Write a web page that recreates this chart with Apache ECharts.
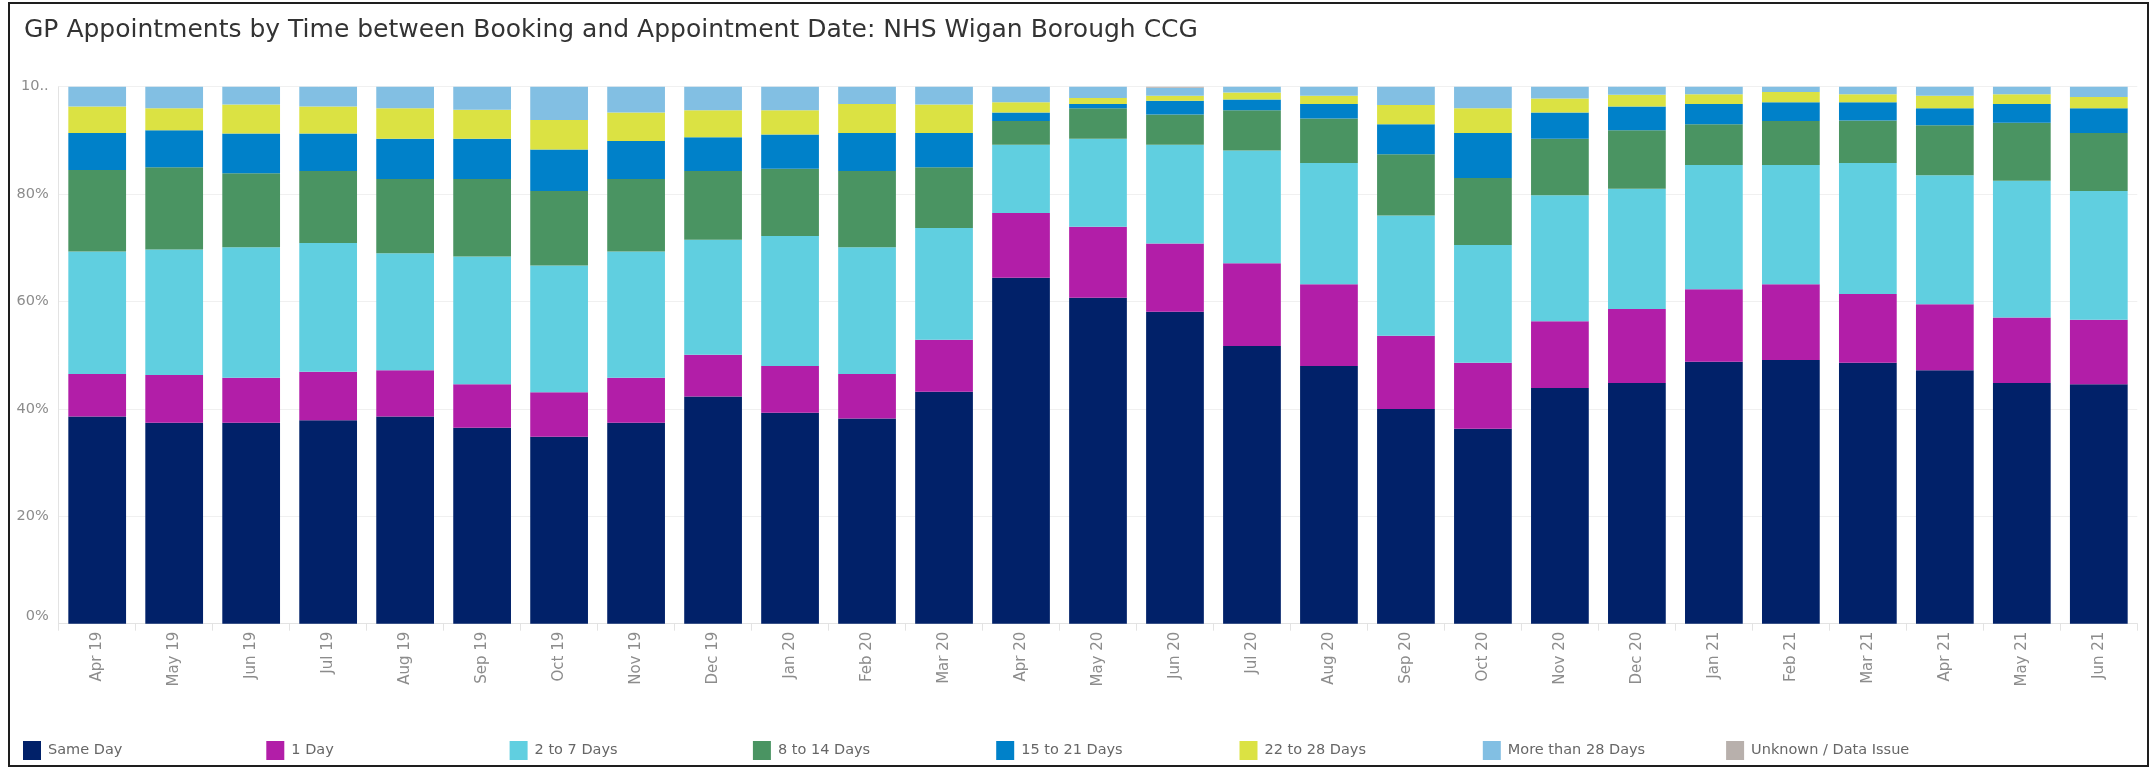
<!DOCTYPE html>
<html>
<head>
<meta charset="utf-8">
<title>GP Appointments by Time between Booking and Appointment Date</title>
<script src="https://cdn.jsdelivr.net/npm/echarts@6/dist/echarts.min.js"></script>
<style>
  html, body { margin: 0; padding: 0; background: #ffffff; }
  #chart { width: 2153px; height: 772px; }
</style>
</head>
<body>
<div id="chart"></div>
<script>
// Months on the category axis
const months = ['Apr 19', 'May 19', 'Jun 19', 'Jul 19', 'Aug 19', 'Sep 19', 'Oct 19', 'Nov 19', 'Dec 19',
  'Jan 20', 'Feb 20', 'Mar 20', 'Apr 20', 'May 20', 'Jun 20', 'Jul 20', 'Aug 20', 'Sep 20', 'Oct 20',
  'Nov 20', 'Dec 20', 'Jan 21', 'Feb 21', 'Mar 21', 'Apr 21', 'May 21', 'Jun 21'];

// Share of appointments (%) by time between booking and appointment
const sameDay      = [38.6, 37.4, 37.4, 37.9, 38.6, 36.5, 34.8, 37.4, 42.3, 39.3, 38.2, 43.2, 64.4, 60.7, 58.1, 51.7, 48.0, 40.0, 36.3, 43.9, 44.8, 48.8, 49.1, 48.6, 47.2, 44.8, 44.6];
const oneDay       = [7.9, 8.9, 8.4, 9.0, 8.6, 8.1, 8.3, 8.4, 7.8, 8.7, 8.3, 9.7, 12.1, 13.2, 12.7, 15.4, 15.2, 13.6, 12.3, 12.4, 13.8, 13.5, 14.1, 12.8, 12.3, 12.2, 12.0];
const twoToSeven   = [22.8, 23.4, 24.3, 24.0, 21.8, 23.8, 23.6, 23.5, 21.4, 24.2, 23.6, 20.8, 12.7, 16.4, 18.4, 21.0, 22.6, 22.4, 21.9, 23.5, 22.4, 23.1, 22.2, 24.4, 24.0, 25.5, 24.0];
const eightTo14    = [15.2, 15.3, 13.8, 13.4, 13.8, 14.4, 13.9, 13.5, 12.8, 12.5, 14.2, 11.3, 4.4, 5.7, 5.6, 7.5, 8.3, 11.4, 12.5, 10.5, 10.9, 7.6, 8.2, 7.9, 9.3, 10.8, 10.8];
const fifteenTo21  = [6.9, 6.9, 7.4, 7.0, 7.5, 7.5, 7.7, 7.1, 6.3, 6.4, 7.1, 6.4, 1.6, 0.8, 2.6, 2.0, 2.7, 5.6, 8.4, 4.9, 4.4, 3.8, 3.5, 3.4, 3.2, 3.5, 4.6];
const twentyTwoTo28 = [4.9, 4.1, 5.4, 5.0, 5.7, 5.4, 5.5, 5.3, 5.0, 4.5, 5.4, 5.3, 1.9, 1.1, 0.9, 1.3, 1.5, 3.6, 4.6, 2.6, 2.2, 1.8, 1.9, 1.5, 2.3, 1.8, 2.1];
const over28       = [3.7, 4.0, 3.3, 3.7, 4.0, 4.3, 6.2, 4.8, 4.4, 4.4, 3.2, 3.3, 2.9, 2.1, 1.5, 1.1, 1.7, 3.4, 4.0, 2.2, 1.5, 1.4, 1.0, 1.4, 1.7, 1.4, 1.9];
const unknown      = [0, 0, 0, 0, 0, 0, 0, 0, 0, 0, 0, 0, 0, 0, 0.2, 0, 0, 0, 0, 0, 0, 0, 0, 0, 0, 0, 0];

const seriesNames = ['Same Day', '1 Day', '2 to 7 Days', '8 to 14 Days', '15 to 21 Days',
  '22 to 28 Days', 'More than 28 Days', 'Unknown / Data Issue'];
const seriesValues = [sameDay, oneDay, twoToSeven, eightTo14, fifteenTo21, twentyTwoTo28, over28, unknown];

// Y axis tick values and their labels
const yTicks = [0, 20, 40, 60, 80, 100];
const yTickLabels = ['0%', '20%', '40%', '60%', '80%', '10..'];

const colors = ['#012169', '#b21ea8', '#60cfe0', '#4a9462', '#0081c9', '#dbe243', '#82bfe3', '#b8b0ac'];
const FONT = 'DejaVu Sans';
const LABEL_COLOR = '#8c8c8c';

const chart = echarts.init(document.getElementById('chart'), null, { renderer: 'canvas' });

const option = {
  animation: false,
  backgroundColor: '#ffffff',
  title: {
    text: 'GP Appointments by Time between Booking and Appointment Date: NHS Wigan Borough CCG',
    left: 19,
    top: 13,
    textStyle: { fontFamily: FONT, fontSize: 25, fontWeight: 'normal', color: '#333333' }
  },
  grid: { left: 58.7, right: 15.7, top: 86.7, bottom: 148.3 },
  xAxis: {
    type: 'category',
    data: months,
    axisLine: { show: true, lineStyle: { color: '#e3e3e3', width: 1 } },
    axisTick: { show: true, length: 7, lineStyle: { color: '#e3e3e3' } },
    axisLabel: { rotate: 90, margin: 8, fontFamily: FONT, fontSize: 15, color: LABEL_COLOR }
  },
  yAxis: {
    type: 'value',
    min: 0,
    max: 100,
    interval: 20,
    axisLine: { show: true, lineStyle: { color: '#e3e3e3' } },
    axisTick: { show: false },
    splitLine: { show: true, lineStyle: { color: '#f0f0f0' } },
    axisLabel: {
      margin: 10,
      fontFamily: FONT,
      fontSize: 14.5,
      color: LABEL_COLOR,
      verticalAlignMinLabel: 'bottom',
      formatter: function (v) {
        const i = yTicks.indexOf(v);
        return i >= 0 ? yTickLabels[i] : '';
      }
    }
  },
  // one legend block per category, evenly spaced along the bottom
  legend: seriesNames.map(function (name, i) {
    return {
      data: [name],
      left: 18 + i * 243.3,
      top: 736,
      icon: 'rect',
      itemWidth: 18,
      itemHeight: 19,
      selectedMode: false,
      textStyle: { fontFamily: FONT, fontSize: 14.5, color: '#666666', padding: [0, 0, 0, 2] }
    };
  }),
  graphic: [{
    type: 'rect',
    silent: true,
    shape: { x: 9, y: 3, width: 2139, height: 763 },
    style: { fill: 'none', stroke: '#1e1e1e', lineWidth: 2 }
  }],
  series: seriesNames.map(function (name, i) {
    return {
      name: name,
      type: 'bar',
      stack: 'share',
      barCategoryGap: '25%',
      data: seriesValues[i],
      itemStyle: { color: colors[i] },
      emphasis: { disabled: true }
    };
  })
};

chart.setOption(option);
</script>
</body>
</html>
